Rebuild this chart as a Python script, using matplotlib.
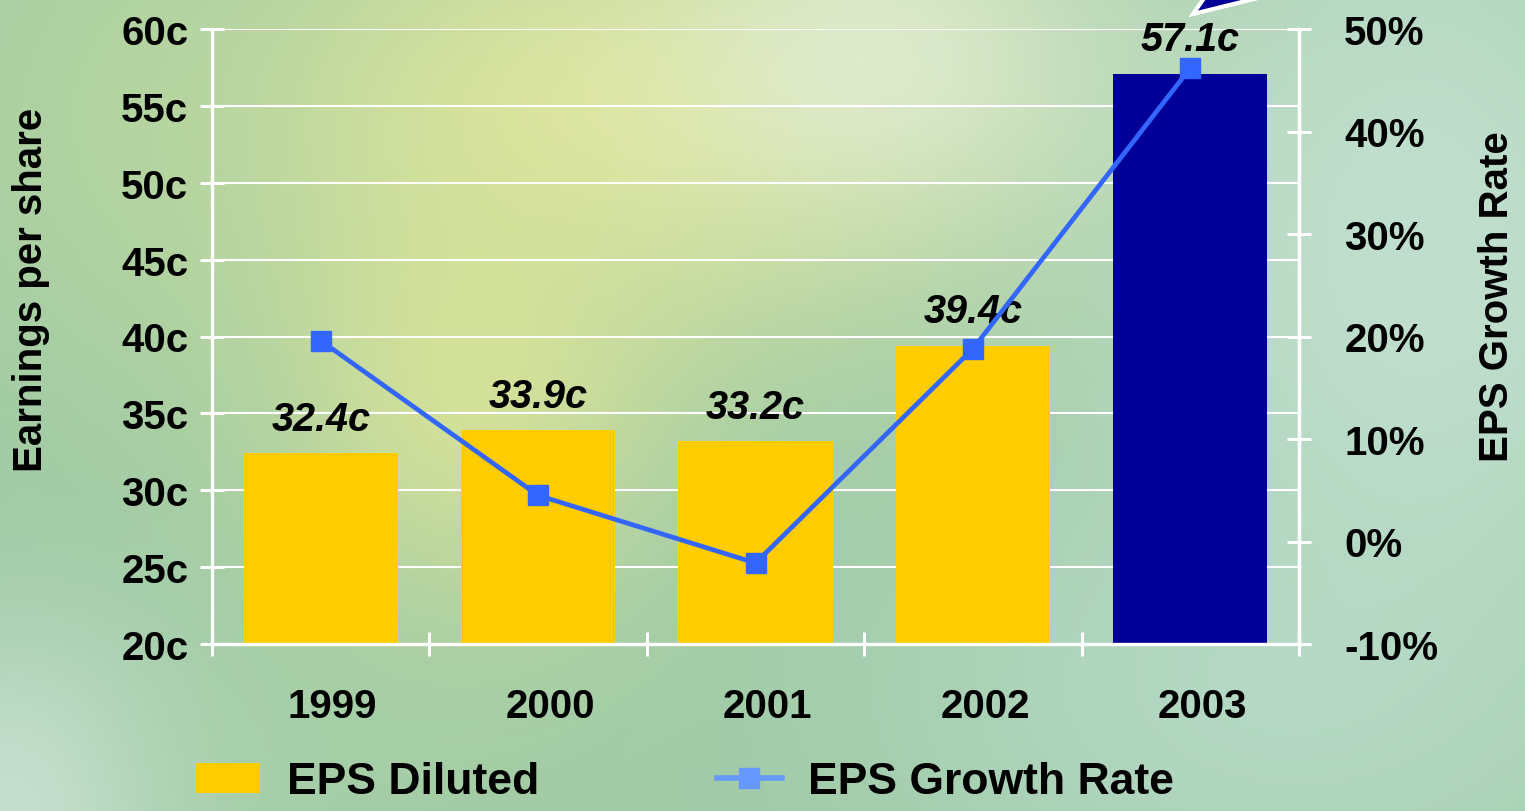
import numpy as np
import matplotlib
matplotlib.use("Agg")
import matplotlib.pyplot as plt
from matplotlib.lines import Line2D
from matplotlib.patches import Patch, Polygon
from matplotlib.colors import to_rgb
import matplotlib.transforms as mtransforms

plt.rcParams['font.family'] = ['Liberation Sans', 'DejaVu Sans']
plt.rcParams['font.weight'] = 'bold'

# ---- data ----
years = ['1999', '2000', '2001', '2002', '2003']
eps_diluted = [32.4, 33.9, 33.2, 39.4, 57.1]          # cents per share
eps_growth = [19.6, 4.5, -2.1, 18.8, 46.2]            # percent
bar_colors = ['#FFCC00', '#FFCC00', '#FFCC00', '#FFCC00', '#000099']
eps_ticks = [20, 25, 30, 35, 40, 45, 50, 55, 60]
growth_ticks = [-10, 0, 10, 20, 30, 40, 50]

W, H = 1525, 812
fig = plt.figure(figsize=(W / 100, H / 100), dpi=100)

# ---- soft painted backdrop ----
yy, xx = np.mgrid[0:H, 0:W].astype(float)
img = np.zeros((H, W, 3))
img[:] = to_rgb('#9fcaa6')
blobs = [
    ((620, 110), (300, 170), '#dfe69c', 0.95),
    ((470, 380), (140, 170), '#dbe497', 0.85),
    ((880, 60), (160, 110), '#e4eed6', 0.8),
    ((1420, 260), (230, 330), '#c4e1d2', 0.9),
    ((1250, 700), (260, 160), '#b9dccb', 0.7),
    ((20, 800), (120, 120), '#d4e6df', 0.8),
    ((300, 760), (180, 80), '#a9d1a9', 0.5),
    ((120, 120), (150, 200), '#b8d69f', 0.5),
]
for (cx, cy), (sx, sy), col, a in blobs:
    w = a * np.exp(-(((xx - cx) / sx) ** 2 + ((yy - cy) / sy) ** 2) / 2)
    img = img * (1 - w[..., None]) + np.array(to_rgb(col)) * w[..., None]
bg = fig.add_axes([0, 0, 1, 1], zorder=-10)
bg.imshow(img, aspect='auto', interpolation='bilinear')
bg.set_axis_off()

# ---- main axes ----
left, right, top, bottom = 212, 1299, 30, 645
ax = fig.add_axes([left / W, 1 - bottom / H, (right - left) / W, (bottom - top) / H])
ax.set_facecolor('none')
x = np.arange(len(years))

ax.bar(x, eps_diluted, width=0.71, color=bar_colors, zorder=2)
ax.set_xlim(-0.5, len(years) - 0.5)
ax.set_ylim(20, 60)
ax.set_yticks(eps_ticks)
ax.set_yticklabels([f'{t}c' for t in eps_ticks])
ax.set_axisbelow(True)
ax.grid(axis='y', color='white', linewidth=1.5)

for s in ax.spines.values():
    s.set_color('white')
    s.set_linewidth(2.4)
ax.spines['top'].set_visible(False)

# category boundary ticks, labels centred on the bars
ax.set_xticks(np.arange(len(years) + 1) - 0.5)
ax.set_xticklabels([])
ax.set_xticks(x, minor=True)
ax.set_xticklabels(years, minor=True)
ax.tick_params(axis='x', which='major', direction='inout', length=17, width=2.2, color='white')
ax.tick_params(axis='x', which='minor', length=0, pad=31, labelsize=29)
shift = mtransforms.ScaledTranslation(12 / 100, 0, fig.dpi_scale_trans)
for lab in ax.get_xticklabels(minor=True):
    lab.set_transform(lab.get_transform() + shift)
ax.tick_params(axis='y', direction='inout', length=17, width=2.2, color='white',
               pad=8.5, labelsize=29)

for xi, v in zip(x, eps_diluted):
    ax.annotate(f'{v}c', (xi, v), xytext=(0, 11), textcoords='offset points',
                ha='center', va='bottom', fontsize=28.5, fontstyle='italic',
                fontweight='bold', color='black', zorder=3)

ax.set_ylabel('Earnings per share', fontsize=29, fontweight='bold')
ax.yaxis.set_label_coords(-0.149, 0.577)

# ---- growth rate on the secondary axis ----
ax2 = ax.twinx()
ax2.set_ylim(-10, 50)
ax2.set_yticks(growth_ticks)
ax2.set_yticklabels([f'{t}%' for t in growth_ticks])
ax2.tick_params(axis='y', direction='inout', length=17, width=2.2, color='white',
                pad=24, labelsize=29)
for s in ax2.spines.values():
    s.set_visible(False)
ax2.spines['right'].set_visible(True)
ax2.spines['right'].set_color('white')
ax2.spines['right'].set_linewidth(2.4)
ax2.plot(x, eps_growth, color='#3366FF', linewidth=3.4, marker='s', markersize=14,
         markerfacecolor='#3366FF', markeredgecolor='#3366FF', zorder=5)
ax2.set_ylabel('EPS Growth Rate', fontsize=29, fontweight='bold')
ax2.yaxis.set_label_coords(1.1647, 0.566)

# ---- arrow tip peeking in at the top ----
arrow = Polygon([[1193 / W, 1 - 15 / H], [1212 / W, 1 + 12 / H], [1262 / W, 1 + 2 / H]],
                closed=True, transform=fig.transFigure, facecolor='#000099',
                edgecolor='white', linewidth=3, joinstyle='miter', zorder=20)
fig.add_artist(arrow)

# ---- legend ----
handles = [Patch(facecolor='#FFCC00', edgecolor='none'),
           Line2D([], [], color='#6699FF', linewidth=4, marker='s', markersize=14,
                  markerfacecolor='#6699FF', markeredgecolor='#6699FF')]
fig.legend(handles, ['EPS Diluted', 'EPS Growth Rate'], loc='center left',
           bbox_to_anchor=(196 / W, 1 - 783 / H), ncol=2, frameon=False,
           prop={'size': 32, 'weight': 'bold'}, handlelength=1.45, handleheight=0.65,
           handletextpad=0.6, columnspacing=4.0, borderpad=0, borderaxespad=0)

fig.savefig('out.png', dpi=100)
